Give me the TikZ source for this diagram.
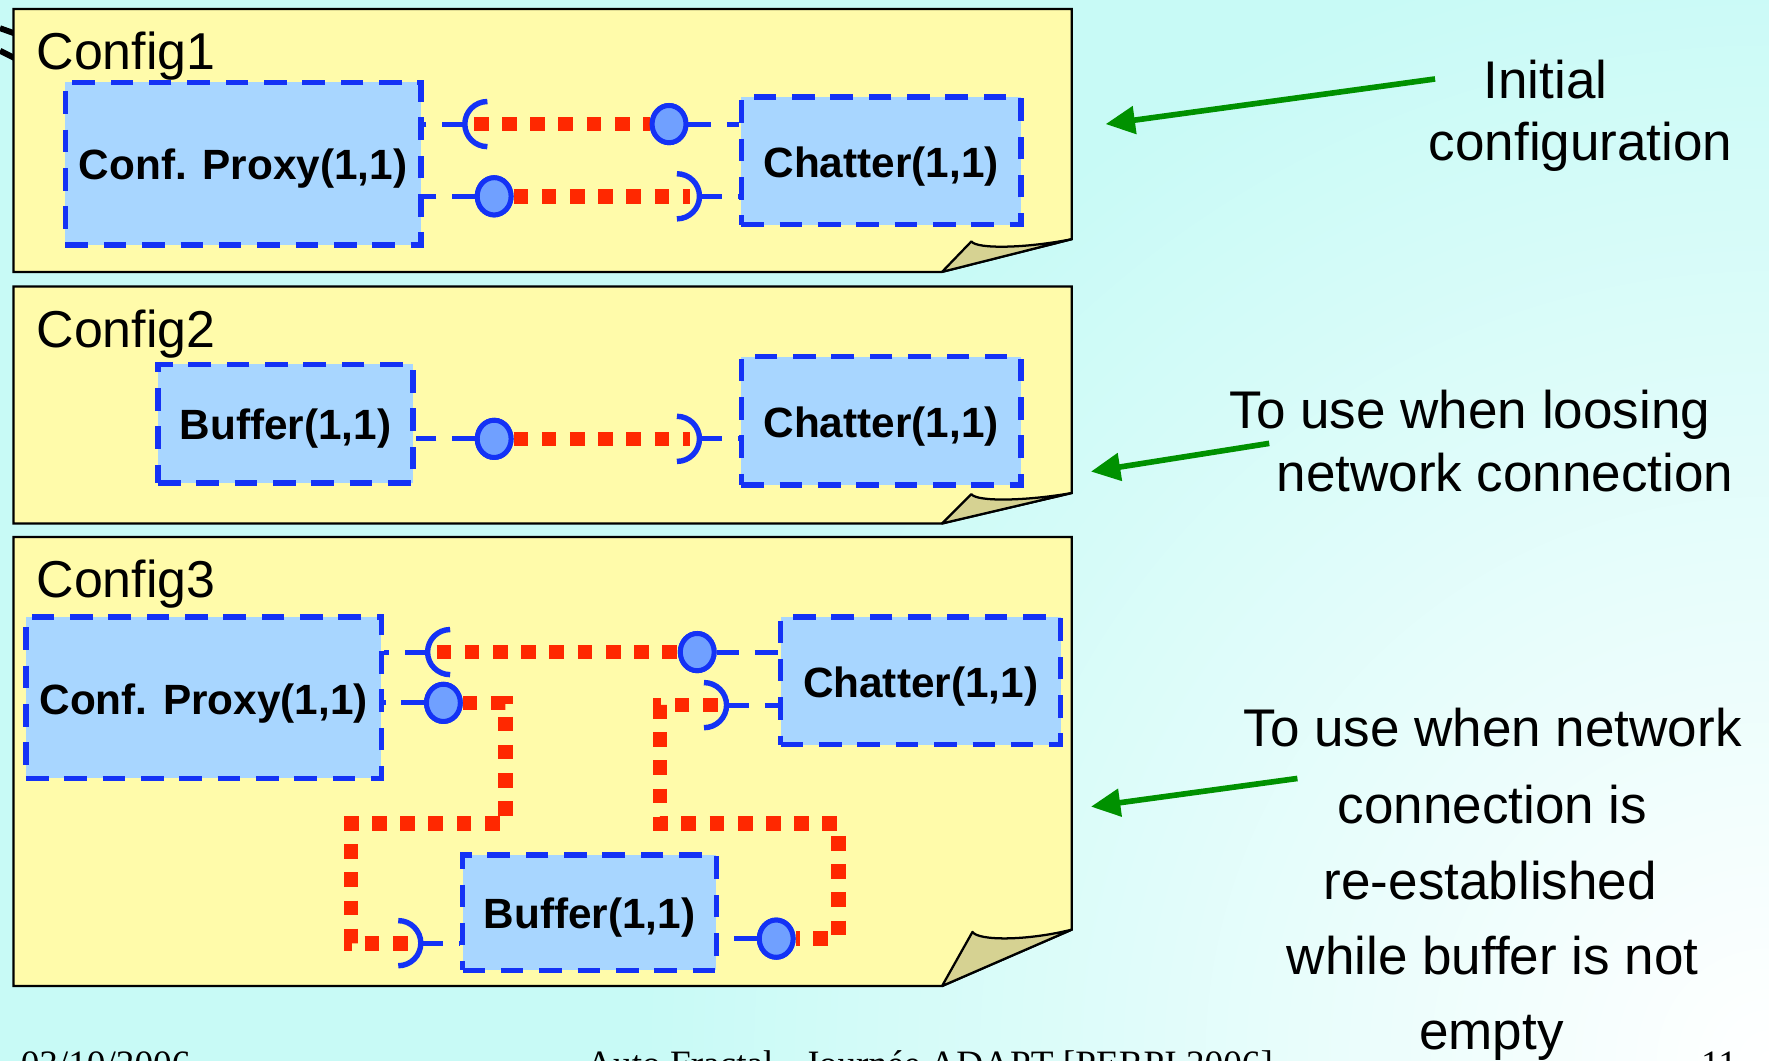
\documentclass[tikz,border=0pt]{standalone}
\usepackage{fontspec}
\setmainfont{Liberation Sans}
\newfontfamily\footfont{Liberation Serif}
\usetikzlibrary{arrows.meta,shapes.geometric}
\definecolor{bgc}{RGB}{200,250,246}
\definecolor{panelc}{RGB}{255,251,170}
\definecolor{flapc}{RGB}{214,210,146}
\definecolor{boxc}{RGB}{168,214,255}
\definecolor{blue1}{RGB}{20,50,245}
\definecolor{ballc}{RGB}{112,160,255}
\definecolor{redc}{RGB}{255,40,0}
\definecolor{greenc}{RGB}{0,145,0}
\tikzset{
  panel/.style={fill=panelc, draw=black, line width=1pt, line join=miter},
  flap/.style={fill=flapc, draw=black, line width=1pt, line join=round},
  comp/.style={fill=boxc, draw=blue1, line width=2.4pt, dash pattern=on 10pt off 7pt,
    font=\bfseries\fontsize{18.75}{22}\selectfont, inner sep=0pt,
    text height=14.4pt, text depth=0pt},
  ball/.style={ellipse, fill=ballc, draw=blue1, line width=2.2pt,
    minimum width=15pt, minimum height=16.5pt, inner sep=0pt},
  stem/.style={draw=blue1, line width=2.2pt, dash pattern=on 10pt off 7pt},
  sock/.style={draw=blue1, line width=2.4pt},
  wire/.style={draw=redc, line width=6.5pt, dash pattern=on 6.5pt off 6pt},
  note/.style={font=\fontsize{23.5}{28}\selectfont, anchor=base, inner sep=0pt},
  cfg/.style={font=\fontsize{23}{28}\selectfont, anchor=base west, inner sep=0pt},
  foot/.style={font=\footfont\fontsize{16.5}{20}\selectfont, anchor=base, inner sep=0pt},
  garrow/.style={draw=greenc, line width=2.5pt, -{Triangle[length=13pt,width=12pt]}},
}
\begin{document}
\begin{tikzpicture}[x=0.5pt,y=-0.5pt]
\clip (0,0) rectangle (1568,940);
\fill[bgc] (0,0) rectangle (1568,940);
\shade[inner color=white, outer color=bgc] (1568,940) circle (1000);

% marks at top left
\draw[black, line width=2.6pt] (0,25) -- (14,30);
\draw[black, line width=2.6pt] (0,45) -- (14,52);

% ---------- panels
\draw[panel] (12,8) -- (950,8) -- (950,212) -- (835,241) -- (12,241) -- cycle;
\draw[flap] (835,241) -- (861,214) .. controls (866,221) and (910,220) .. (950,212) -- cycle;
\draw[panel] (12,254) -- (950,254) -- (950,437) -- (835,464) -- (12,464) -- cycle;
\draw[flap] (835,464) -- (861,438) .. controls (866,445) and (910,444) .. (950,437) -- cycle;
\draw[panel] (12,476) -- (950,476) -- (950,824) -- (835,874) -- (12,874) -- cycle;
\draw[flap] (835,874) -- (862,826) .. controls (867,834) and (910,834) .. (950,824) -- cycle;

\node[cfg] (c1) at (32,62) {Config1};
\node[cfg] (c2) at (32,308) {Config2};
\node[cfg] (c3) at (32,530) {Config3};

% ---------- Config1
\node[comp, minimum width=157.5pt, minimum height=72pt] (cp1) at (215.5,145) {Conf. Proxy(1,1)};
\node[comp, minimum width=124pt, minimum height=56.5pt] (ch1) at (781,142.5) {Chatter(1,1)};
\coordinate (s1a) at (432,110);
\node[ball] (b1a) at (593,110) {};
\node[ball] (b1b) at (438,174) {};
\coordinate (s1b) at (600,174);
\draw[wire] ([xshift=-6pt]s1a) -- (b1a.west);
\draw[wire] (b1b.east) -- ([xshift=6pt]s1b);
\draw[stem] ([xshift=-10pt]s1a) -- (cp1.east |- s1a);
\draw[stem] (b1a.east) -- (ch1.west |- b1a);
\draw[stem] (b1b.west) -- (cp1.east |- b1b);
\draw[stem] ([xshift=10pt]s1b) -- (ch1.west |- s1b);
\draw[sock] ([yshift=10pt]s1a) arc[start angle=90, end angle=270, radius=10pt];
\draw[sock] ([yshift=-10pt]s1b) arc[start angle=-90, end angle=90, radius=10pt];
\node[ball] at (b1a) {};
\node[ball] at (b1b) {};

% ---------- Config2
\node[comp, minimum width=113pt, minimum height=52.5pt] (bf2) at (253,375.5) {Buffer(1,1)};
\node[comp, minimum width=124pt, minimum height=57pt] (ch2) at (781,373) {Chatter(1,1)};
\node[ball] (b2) at (438,389) {};
\coordinate (s2) at (600,389);
\draw[wire] (b2.east) -- ([xshift=6pt]s2);
\draw[stem] (b2.west) -- (bf2.east |- b2);
\draw[stem] ([xshift=10pt]s2) -- (ch2.west |- s2);
\draw[sock] ([yshift=-10pt]s2) arc[start angle=-90, end angle=90, radius=10pt];
\node[ball] at (b2) {};

% ---------- Config3
\node[comp, minimum width=157.5pt, minimum height=71.5pt] (cp3) at (180.5,618.5) {Conf. Proxy(1,1)};
\node[comp, minimum width=124pt, minimum height=56.5pt] (ch3) at (816,603.5) {Chatter(1,1)};
\node[comp, minimum width=112.5pt, minimum height=51pt] (bf3) at (522.5,809) {Buffer(1,1)};
\coordinate (s3a) at (399,578);
\node[ball] (b3a) at (618,578) {};
\node[ball] (b3b) at (393,623) {};
\coordinate (s3d) at (624,625);
\coordinate (s3c) at (353,836);
\node[ball] (b3e) at (688,832) {};
\draw[wire] ([xshift=-6pt]s3a) -- (b3a.west);
\draw[wire] (b3b.east) -| (448,730) -| (311,836) -- ([xshift=6pt]s3c);
\draw[wire] ([xshift=6pt]s3d) -| (585,730) -| (743,832) -- (b3e.east);
\draw[stem] ([xshift=-10pt]s3a) -- (cp3.east |- s3a);
\draw[stem] (b3a.east) -- (ch3.west |- b3a);
\draw[stem] (b3b.west) -- (cp3.east |- b3b);
\draw[stem] ([xshift=10pt]s3d) -- (ch3.west |- s3d);
\draw[stem] ([xshift=10pt]s3c) -- (bf3.west |- s3c);
\draw[stem] (b3e.west) -- (bf3.east |- b3e);
\draw[sock] ([yshift=10pt]s3a) arc[start angle=90, end angle=270, radius=10pt];
\draw[sock] ([yshift=-10pt]s3d) arc[start angle=-90, end angle=90, radius=10pt];
\draw[sock] ([yshift=-10pt]s3c) arc[start angle=-90, end angle=90, radius=10pt];
\node[ball] at (b3a) {};
\node[ball] at (b3b) {};
\node[ball] at (b3e) {};

% ---------- notes and arrows
\node[note] (n1a) at (1370,87) {Initial};
\node[note] (n1b) at (1401,142) {configuration};
\node[note] (n2a) at (1303,380) {To use when loosing};
\node[note] (n2b) at (1334,436) {network connection};
\node[note] (n3a) at (1323,662) {To use when network};
\node[note] (n3b) at (1323,730) {connection is};
\node[note] (n3c) at (1321,797) {re-established};
\node[note] (n3d) at (1323,864) {while buffer is not};
\node[note] (n3e) at (1322,930) {empty};

\coordinate (t1) at (1272,70);  \coordinate (a1) at (980,110);
\coordinate (t2) at (1125,393); \coordinate (a2) at (967,418);
\coordinate (t3) at (1150,690); \coordinate (a3) at (967,715);
\draw[garrow] (t1) -- (a1);
\draw[garrow] (t2) -- (a2);
\draw[garrow] (t3) -- (a3);

% ---------- footer (cut off by the page edge, as in the reference)
\node[foot, anchor=base west] (f1) at (18,954) {03/10/2006};
\node[foot] (f2) at (824,954) {Auto Fractal - Journée ADAPT [PERPI 2006]};
\node[foot, anchor=base east] (f3) at (1540,954) {11};
\end{tikzpicture}
\end{document}
